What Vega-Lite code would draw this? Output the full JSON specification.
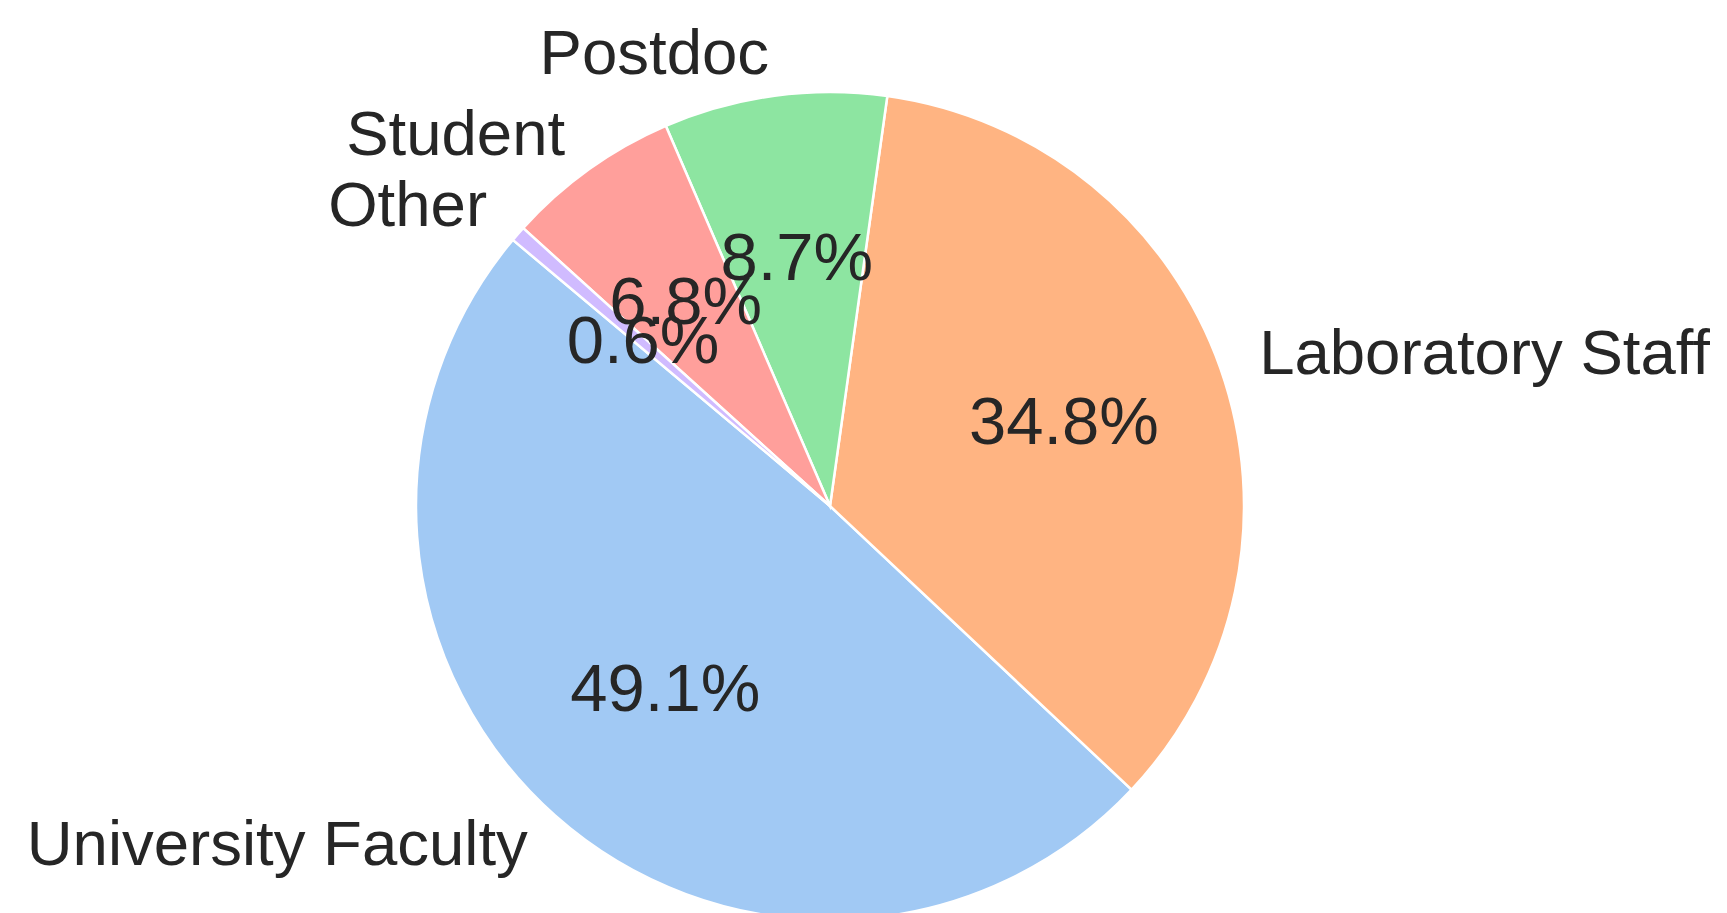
{
  "$schema": "https://vega.github.io/schema/vega-lite/v6.json",
  "autosize": {"type": "none"},
  "padding": {"left": 0, "top": 99, "right": 67, "bottom": 0},
  "width": 1660,
  "height": 814,
  "background": "white",
  "view": {"stroke": null},
  "data": {
    "values": [
      {"category": "University Faculty", "share": 0.491, "idx": 5},
      {"category": "Laboratory Staff", "share": 0.348, "idx": 4},
      {"category": "Postdoc", "share": 0.087, "idx": 3},
      {"category": "Student", "share": 0.068, "idx": 2},
      {"category": "Other", "share": 0.006, "idx": 1}
    ]
  },
  "encoding": {
    "theta": {"field": "share", "type": "quantitative", "stack": true, "scale": {"range": [5.41052, 11.69371]}},
    "order": {"field": "idx", "type": "quantitative", "sort": "ascending"}
  },
  "layer": [
    {
      "mark": {"type": "arc", "outerRadius": 414, "stroke": "white", "strokeWidth": 2.5},
      "encoding": {
        "color": {
          "field": "category",
          "type": "nominal",
          "legend": null,
          "scale": {
            "domain": ["University Faculty", "Laboratory Staff", "Postdoc", "Student", "Other"],
            "range": ["#a1c9f4", "#ffb482", "#8de5a1", "#ff9f9b", "#d0bbff"]
          }
        }
      }
    },
    {
      "mark": {
        "type": "text",
        "radius": 455,
        "fontSize": 63.5,
        "font": "Liberation Sans",
        "fill": "#262626",
        "baseline": "middle",
        "align": {"expr": "datum.category === 'Laboratory Staff' ? 'left' : 'right'"}
      },
      "encoding": {"text": {"field": "category", "type": "nominal"}}
    },
    {
      "mark": {
        "type": "text",
        "radius": 248,
        "fontSize": 67,
        "font": "Liberation Sans",
        "fill": "#262626",
        "baseline": "middle",
        "align": "center"
      },
      "encoding": {"text": {"field": "share", "type": "quantitative", "format": ".1%"}}
    }
  ]
}
